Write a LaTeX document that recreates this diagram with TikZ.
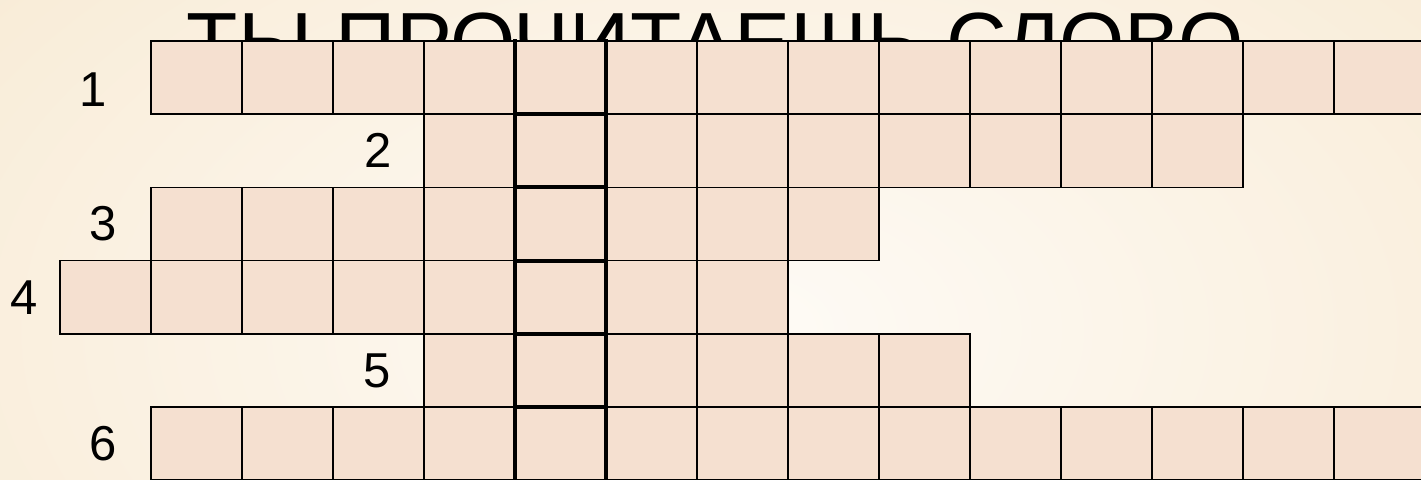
\documentclass[tikz,border=0pt]{standalone}
\usepackage{fontspec}
\setmainfont{Liberation Sans}
\usetikzlibrary{positioning}
\definecolor{cellfill}{RGB}{245,224,208}
\definecolor{bgouter}{RGB}{245,227,197}
\definecolor{bginner}{RGB}{254,251,246}
\tikzset{
    cell/.style={
        rectangle,
        draw=black,
        fill=cellfill,
        line width=0.75pt,
        minimum width=45.5pt,
        minimum height=36.6pt,
        inner sep=0pt,
        outer sep=0pt
    },
    cluenum/.style={
        font=\fontsize{24.5}{24.5}\selectfont,
        inner sep=0pt
    },
    keyline/.style={
        line width=2pt,
        line cap=rect
    }
}

\begin{document}
\begin{tikzpicture}[x=0.5pt, y=-0.5pt]
\useasboundingbox (0,0) rectangle (1421,480);
\clip (0,0) rectangle (1421,480);

% background
\shade[inner color=bginner, outer color=bgouter] (-760,-570) rectangle (2240,1230);

% title, partly hidden by the first row
\node[font=\fontsize{42}{42}\selectfont, anchor=base, inner sep=0pt] (title) at (715,72) {ТЫ ПРОЧИТАЕШЬ СЛОВО};

% cells: row / first column / last column
\foreach \r/\first/\last in {1/1/14, 2/4/12, 3/1/8, 4/0/7, 5/4/9, 6/1/14}
    \foreach \c in {\first,...,\last}
        \node[cell] (c\r-\c) at ({60+91*(\c+0.5)}, {41+73.2*(\r-0.5)}) {};

% clue numbers
\node[cluenum, left=22pt of c1-1, yshift=-6pt] (n1) {1};
\foreach \r/\c/\gap in {2/4/16pt, 3/1/17pt, 4/0/11pt, 5/4/16.5pt, 6/1/17pt}
    \node[cluenum, left=\gap of c\r-\c] (n\r) {\r};

% key word column
\draw[keyline] (c1-5.north west) -- (c6-5.south west);
\draw[keyline] (c1-5.north east) -- (c6-5.south east);
\foreach \r in {1,...,5}
    \draw[keyline] (c\r-5.south west) -- (c\r-5.south east);
\end{tikzpicture}
\end{document}
